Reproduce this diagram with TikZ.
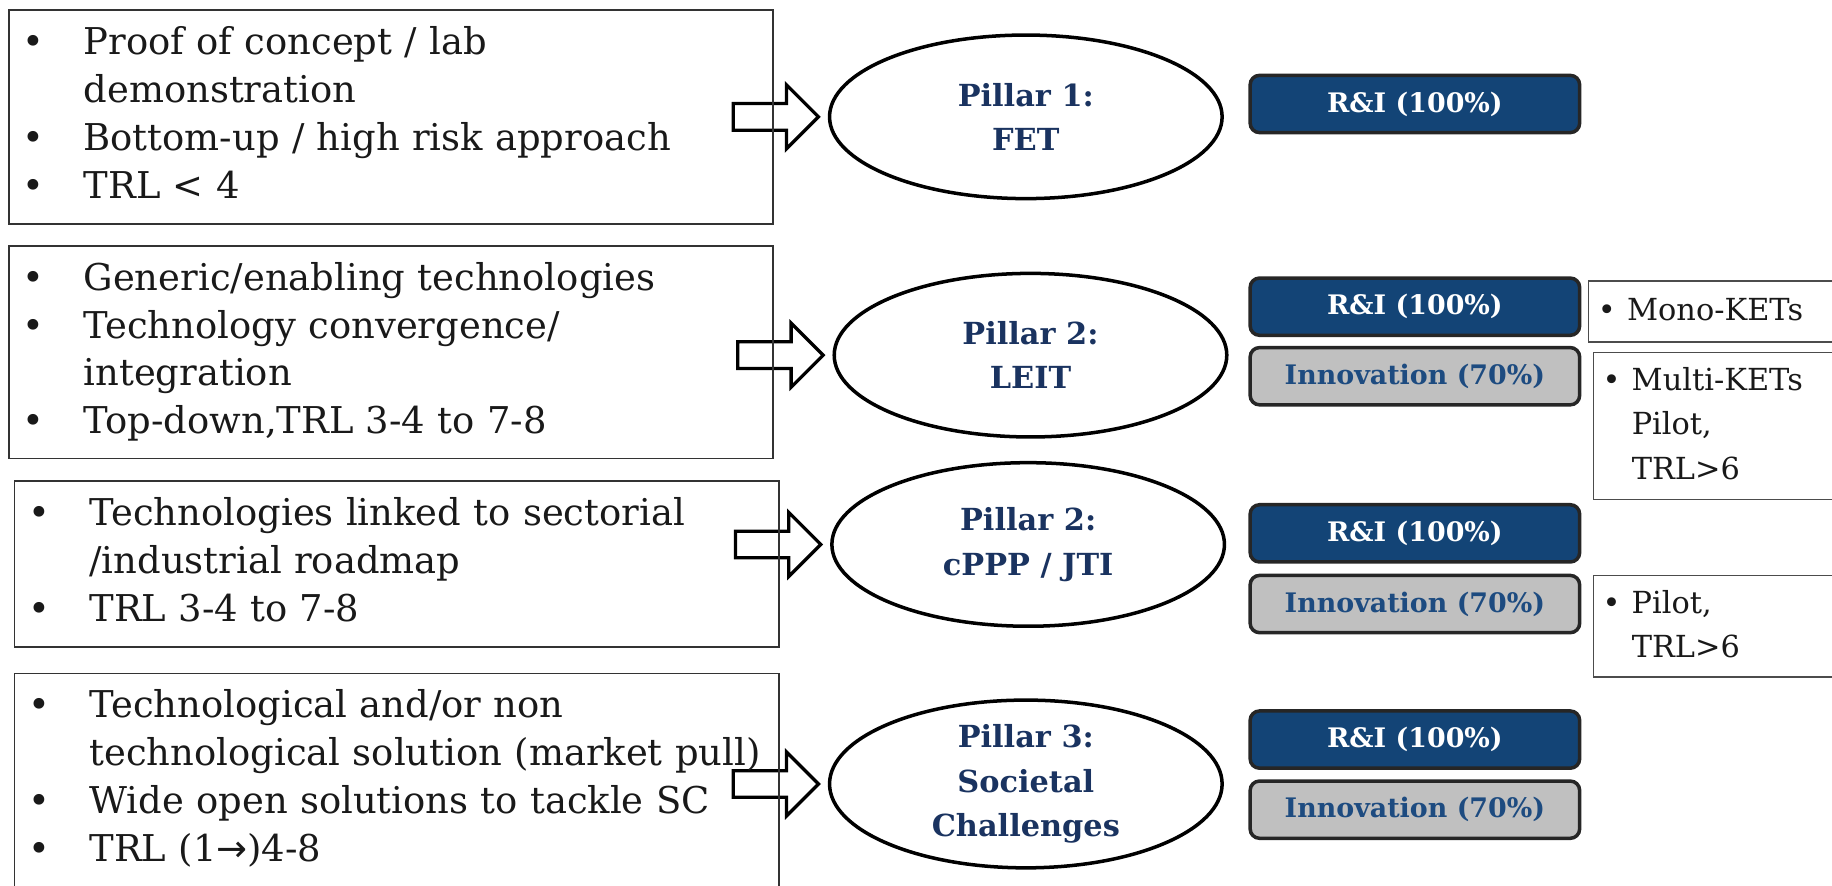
\documentclass[tikz,border=0pt]{standalone}
\usepackage{fontspec}
\setmainfont{DejaVu Serif}
\usepackage{tikz}
\usetikzlibrary{positioning,shapes.geometric,shapes.arrows}
\definecolor{pillarnavy}{HTML}{1A3360}
\definecolor{riblue}{HTML}{134476}
\definecolor{innotext}{HTML}{1D4B80}
\definecolor{innogray}{HTML}{C0C0C0}
\newcommand{\bodyfont}{\fontsize{15.8pt}{20.5pt}\selectfont}
\newcommand{\sidefont}{\fontsize{13pt}{19pt}\selectfont}
\newcommand{\pillarfont}{\fontsize{13pt}{19pt}\selectfont\bfseries}
\newcommand{\barfont}{\fontsize{11.5pt}{14pt}\selectfont\bfseries}

\begin{document}
\begin{tikzpicture}[x=0.5pt, y=-0.5pt,
  textbox/.style={draw=black!80, line width=0.6pt, anchor=north west,
    inner xsep=6pt, inner ysep=0pt, text width=315pt, align=left,
    font=\bodyfont, text=black!90},
  pillar/.style={ellipse, draw=black, line width=1.5pt, fill=white,
    minimum width=168pt, minimum height=70pt, inner sep=0pt, align=center,
    font=\pillarfont, text=pillarnavy},
  blockarrow/.style={single arrow, draw=black, line width=1.4pt, fill=white,
    minimum height=36.5pt, single arrow head extend=8pt, inner sep=5pt,
    anchor=tip},
  barbox/.style={rectangle, rounded corners=4pt, draw=black!85,
    line width=1.5pt, minimum width=141pt, minimum height=24.5pt,
    inner sep=0pt, font=\barfont},
  ribox/.style={barbox, fill=riblue, text=white},
  innobox/.style={barbox, fill=innogray, text=innotext},
  sidebox/.style={draw=black!70, line width=0.6pt, anchor=north west,
    inner xsep=4pt, inner ysep=0pt, text width=110pt, align=left,
    font=\sidefont, text=black!90}]
  \useasboundingbox (0,0) rectangle (1568,758);
  \clip (0,0) rectangle (1568,758);
  % Pillars
  \node[pillar] (p1) at (878,100) {Pillar 1:\\FET};
  \node[pillar] (p2) at (882,304) {Pillar 2:\\LEIT};
  \node[pillar] (p3) at (880,466) {Pillar 2:\\cPPP / JTI};
  \node[pillar] (p4) at (878,671) {Pillar 3:\\Societal\\Challenges};
  % Block arrows into the pillars
  \foreach \n in {1,...,4} {
    \node[blockarrow] (a\n) at ([xshift=-3pt]p\n.west) {};
  }
  % Description boxes
  \node[textbox, minimum height=91.5pt] (d1) at (7,8) {\noindent
    \begin{tabular}{@{}p{26pt}@{}l@{}}
    \textbullet & Proof of concept / lab\\
                & demonstration\\
    \textbullet & Bottom-up / high risk approach\\
    \textbullet & TRL < 4
    \end{tabular}};
  \node[textbox, minimum height=91pt] (d2) at (7,210) {\noindent
    \begin{tabular}{@{}p{26pt}@{}l@{}}
    \textbullet & Generic/enabling technologies\\
    \textbullet & Technology convergence/\\
                & integration\\
    \textbullet & Top-down,TRL 3-4 to 7-8
    \end{tabular}};
  \node[textbox, minimum height=71pt] (d3) at (12,411) {\noindent
    \begin{tabular}{@{}p{26pt}@{}l@{}}
    \textbullet & Technologies linked to sectorial\\
                & /industrial roadmap\\
    \textbullet & TRL 3-4 to 7-8
    \end{tabular}};
  \node[textbox, minimum height=91pt] (d4) at (12,576) {\noindent
    \begin{tabular}{@{}p{26pt}@{}l@{}}
    \textbullet & Technological and/or non\\
                & technological solution (market pull)\\
    \textbullet & Wide open solutions to tackle SC\\
    \textbullet & TRL (1{\fontspec{DejaVu Sans}→})4-8
    \end{tabular}};
  % Funding bars
  \foreach \n/\y in {1/89,2/262.5,3/456.5,4/633} {
    \node[ribox] (r\n) at (1211,\y) {R\&I (100\%)};
  }
  \foreach \n/\y in {2/322,3/517,4/693} {
    \node[innobox] (i\n) at (1211,\y) {Innovation (70\%)};
  }
  % Side notes
  \node[sidebox, minimum height=26pt] (mono) at (1359,240) {\noindent
    \begin{tabular}{@{}p{12.5pt}@{}l@{}}
    \textbullet & Mono-KETs
    \end{tabular}};
  \node[sidebox, minimum height=63pt] (multi) at (1363,301) {\noindent
    \begin{tabular}{@{}p{12.5pt}@{}l@{}}
    \textbullet & Multi-KETs\\
                & Pilot,\\
                & TRL>6
    \end{tabular}};
  \node[sidebox, minimum height=43.5pt] (pilot) at (1363,492) {\noindent
    \begin{tabular}{@{}p{12.5pt}@{}l@{}}
    \textbullet & Pilot,\\
                & TRL>6
    \end{tabular}};
\end{tikzpicture}
\end{document}
